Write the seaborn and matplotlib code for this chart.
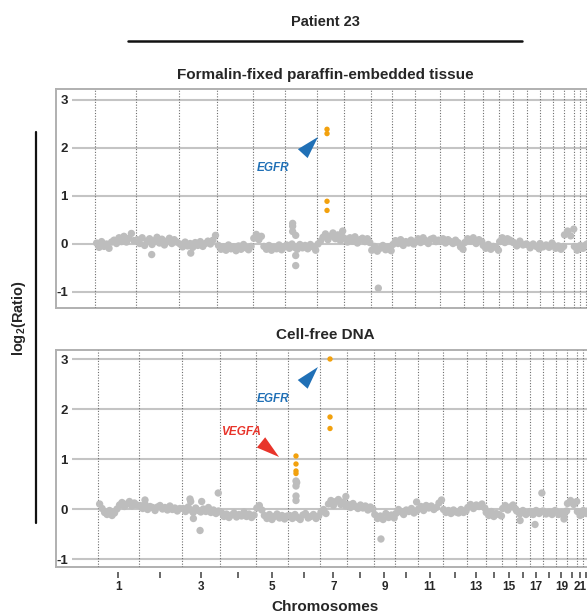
import matplotlib.pyplot as plt
import numpy as np
import pandas as pd
import seaborn as sns
from matplotlib.lines import Line2D

# ---- data -------------------------------------------------------------
chrom_names = [str(i) for i in range(1, 23)] + ["X"]
# plotted (mappable) chromosome sizes, Mb
chrom_size = [225, 239, 214, 197, 183, 175, 150, 150, 117, 125, 139, 136,
              103, 92, 78, 75, 72, 72, 64, 56, 33, 33, 150]

# log2 ratio of binned probes along each chromosome (FFPE tissue)
ffpe_bins = [
    [0.02, -0.07, 0.05, -0.05, 0.0, -0.09, 0.04, 0.08, 0.01, 0.13, 0.05, 0.16, 0.04, 0.12, 0.22, 0.07],
    [0.09, 0.01, 0.13, -0.03, 0.06, 0.11, -0.01, 0.07, 0.14, 0.02, 0.1, -0.02, 0.06, 0.12, 0.01, 0.09, 0.04],
    [0.0, -0.06, 0.04, -0.04, 0.01, -0.07, 0.03, -0.03, 0.05, -0.05, 0.01, 0.06, 0.0, 0.08, 0.18],
    [-0.03, -0.11, -0.06, -0.13, -0.02, -0.1, -0.06, -0.14, -0.04, -0.11, -0.01, -0.08, -0.12, -0.05],
    [0.12, 0.2, 0.09, 0.16, -0.05, -0.11, -0.03, -0.13, -0.07, -0.1, -0.02, -0.12, -0.06],
    [-0.02, -0.09, 0.0, -0.07, -0.11, -0.01, -0.08, -0.03, -0.1, -0.01, -0.06, -0.13],
    [0.0, 0.06, 0.14, 0.21, 0.09, 0.16, 0.23, 0.11, 0.19, 0.07, 0.14],
    [0.11, 0.04, 0.13, 0.06, 0.15, 0.02, 0.09, 0.12, 0.05, 0.11, 0.03],
    [-0.13, -0.05, -0.15, -0.09, -0.03, -0.12, -0.06, -0.14],
    [-0.01, 0.07, 0.01, 0.09, -0.03, 0.05, 0.02, 0.08, 0.0],
    [0.04, 0.11, 0.03, 0.13, 0.07, 0.01, 0.1, 0.12, 0.05, 0.08],
    [0.06, 0.11, 0.02, 0.09, 0.05, 0.01, 0.08, 0.03, -0.06, -0.11],
    [0.03, 0.11, 0.06, 0.13, 0.01, 0.09, 0.05],
    [-0.03, -0.09, -0.01, -0.11, -0.05, -0.07, -0.13],
    [0.05, 0.13, 0.03, 0.11, 0.08, 0.04],
    [0.03, -0.04, 0.06, -0.02, 0.0],
    [-0.01, -0.08, 0.0, -0.05, -0.1],
    [0.01, -0.06, -0.02, -0.07, 0.02],
    [-0.02, -0.09, -0.04, -0.11, -0.05],
    [0.19, 0.27, 0.17, 0.31],
    [-0.05, -0.13, -0.09],
    [-0.03, -0.09, -0.02],
    [0.0, -0.05, 0.03, -0.02, 0.01],
]
ffpe_out_chrom = ["2", "3", "6", "6", "6", "6", "6", "6", "7", "9"]
ffpe_out_pos = [90, 68, 40, 40, 40, 57, 57, 57, 143, 41]
ffpe_out_val = [-0.22, -0.19, 0.43, 0.37, 0.26, 0.18, -0.24, -0.45, 0.27, -0.92]
ffpe_amp_chrom = ["7", "7", "7", "7"]
ffpe_amp_pos = [56, 56, 56, 56]
ffpe_amp_val = [2.39, 2.30, 0.89, 0.70]

# log2 ratio of binned probes along each chromosome (cell-free DNA)
cfdna_bins = [
    [0.1, 0.01, -0.07, -0.11, -0.03, -0.13, -0.08, 0.0, 0.08, 0.13, 0.05, 0.1, 0.15, 0.06, 0.12, 0.08],
    [0.07, 0.01, 0.09, -0.01, 0.05, 0.03, -0.03, 0.04, 0.07, 0.0, 0.03, -0.02, 0.06, -0.01, 0.02, -0.04, 0.01],
    [0.01, -0.05, 0.04, -0.02, -0.07, 0.02, -0.03, -0.06, 0.0, -0.05, 0.03, -0.07, -0.02, -0.09, -0.04],
    [-0.07, -0.15, -0.1, -0.17, -0.12, -0.08, -0.16, -0.11, -0.14, -0.06, -0.15, -0.1, -0.17, -0.12],
    [0.02, 0.07, -0.02, -0.13, -0.19, -0.11, -0.21, -0.15, -0.1, -0.18, -0.13, -0.2, -0.14],
    [-0.13, -0.19, -0.11, -0.17, -0.21, -0.12, -0.09, -0.18, -0.15, -0.11, -0.19, -0.14],
    [-0.06, -0.01, -0.09, 0.1, 0.17, 0.07, 0.15, 0.19, 0.09, 0.14, 0.06],
    [0.09, 0.03, 0.11, 0.05, 0.01, 0.08, 0.02, 0.06, -0.02, 0.04, 0.0],
    [-0.11, -0.19, -0.14, -0.21, -0.09, -0.17, -0.12, -0.18],
    [-0.09, -0.01, -0.06, -0.11, -0.02, -0.05, 0.01, -0.08, -0.04],
    [0.0, 0.05, -0.03, 0.07, 0.02, 0.06, -0.01, 0.03, 0.12, 0.18],
    [-0.01, -0.07, -0.03, -0.09, -0.02, -0.06, -0.08, -0.01, -0.07, -0.04],
    [0.03, 0.09, 0.01, 0.08, 0.05, 0.1, 0.02],
    [-0.07, -0.13, -0.05, -0.15, -0.09, -0.11, -0.14],
    [0.01, 0.07, -0.02, 0.04, 0.08, 0.0],
    [-0.04, -0.1, -0.03, -0.11, -0.07],
    [-0.05, -0.11, -0.03, -0.09, -0.05],
    [-0.04, -0.1, -0.06, -0.11, -0.03],
    [-0.05, -0.11, -0.07, -0.13, -0.04],
    [0.11, 0.17, 0.09, 0.15],
    [-0.05, -0.13, -0.08],
    [-0.03, -0.09, -0.03],
    [0.0, -0.04, 0.02, -0.03, 0.01],
]
cfdna_out_chrom = ["2", "3", "3", "3", "3", "3", "3", "6", "6", "6", "6", "6",
                   "7", "9", "10", "16", "17", "17", "19"]
cfdna_out_pos = [36, 47, 51, 66, 103, 112, 204, 42, 42, 42, 42, 46,
                 144, 39, 120, 22, 68, 30, 47]
cfdna_out_val = [0.18, 0.2, 0.15, -0.19, -0.43, 0.15, 0.32, 0.56, 0.46, 0.26, 0.17, 0.53,
                 0.25, -0.6, 0.14, -0.23, 0.32, -0.31, -0.2]
cfdna_amp_chrom = ["6", "6", "6", "6", "7", "7", "7"]
cfdna_amp_pos = [42, 42, 42, 42, 56, 56, 56]
cfdna_amp_val = [1.06, 0.9, 0.76, 0.71, 3.0, 1.84, 1.61]

y_ticks = [-1, 0, 1, 2, 3]

# ---- helpers ----------------------------------------------------------
offsets = np.concatenate([[0], np.cumsum(chrom_size)])
centers = offsets[:-1] + np.array(chrom_size) / 2


def build_frame(bins, out_chrom, out_pos, out_val, amp_chrom, amp_pos, amp_val):
    rows = []
    for i, vals in enumerate(bins):
        xs = offsets[i] + np.linspace(0.04, 0.96, len(vals)) * chrom_size[i]
        for x, v in zip(xs, vals):
            rows.append((x, v, "normal"))
    for c, p, v in zip(out_chrom, out_pos, out_val):
        rows.append((offsets[chrom_names.index(c)] + p, v, "normal"))
    for c, p, v in zip(amp_chrom, amp_pos, amp_val):
        rows.append((offsets[chrom_names.index(c)] + p, v, "amplified"))
    return pd.DataFrame(rows, columns=["pos", "log2", "status"])


W, H = 587, 615
PX_PER_MB = 0.18


def rect(x0, y0, x1, y1):
    return [x0 / W, 1 - y1 / H, (x1 - x0) / W, (y1 - y0) / H]


sns.set_style("white")
plt.rcParams["font.family"] = ["Liberation Sans", "DejaVu Sans"]
plt.rcParams["axes.unicode_minus"] = False
plt.rcParams["mathtext.fontset"] = "custom"
plt.rcParams["mathtext.rm"] = "Liberation Sans:bold"
plt.rcParams["mathtext.default"] = "rm"

fig = plt.figure(figsize=(W / 100, H / 100), dpi=100)


def draw_panel(df, top, bottom, y3_px, ym1_px, chr1_px):
    frame = fig.add_axes(rect(56, top, 640, bottom))
    frame.set_xticks([])
    frame.set_yticks([])
    frame.set_facecolor("none")
    for s in frame.spines.values():
        s.set_color("#b0b0b0")
        s.set_linewidth(1.4)

    ax = fig.add_axes(rect(72, top, 640, bottom))
    ax.set_facecolor("none")
    per_unit = (ym1_px - y3_px) / 4
    ax.set_ylim(-1 - (bottom - ym1_px) / per_unit, 3 + (y3_px - top) / per_unit)
    ax.set_xlim(-(chr1_px - 72) / PX_PER_MB, (640 - chr1_px) / PX_PER_MB)

    for b in offsets:
        ax.axvline(b, color="#6e6e6e", lw=0.8, ls=(0, (1, 1.5)), zorder=1)
    ax.set_yticks(y_ticks)
    ax.yaxis.grid(True, color="#c4c4c4", lw=1.5)
    ax.xaxis.grid(False)
    ax.set_axisbelow(True)

    sns.scatterplot(data=df, x="pos", y="log2", hue="status", size="status",
                    palette={"normal": "#bdbdbd", "amplified": "#f2a10d"},
                    sizes={"normal": 28, "amplified": 15},
                    linewidth=0, legend=False, ax=ax, zorder=3)
    for s in ax.spines.values():
        s.set_visible(False)
    ax.set_xticks([])
    ax.set_xlabel("")
    ax.set_ylabel("")
    ax.tick_params(axis="y", length=0, pad=3, labelsize=9.5)
    for lab in ax.get_yticklabels():
        lab.set_fontweight("bold")
    return ax


def wedge(ax, tip, offset, color):
    ax.annotate("", xy=tip, xytext=offset, textcoords="offset points",
                arrowprops=dict(arrowstyle="wedge,tail_width=0.95,shrink_factor=0.5",
                                fc=color, ec="none", mutation_scale=10,
                                shrinkA=0, shrinkB=0), zorder=5)


blue = "#2070b6"
red = "#e8342a"

ffpe = build_frame(ffpe_bins, ffpe_out_chrom, ffpe_out_pos, ffpe_out_val,
                   ffpe_amp_chrom, ffpe_amp_pos, ffpe_amp_val)
cfdna = build_frame(cfdna_bins, cfdna_out_chrom, cfdna_out_pos, cfdna_out_val,
                    cfdna_amp_chrom, cfdna_amp_pos, cfdna_amp_val)

ax1 = draw_panel(ffpe, 89, 308, 100, 292, 95)
wedge(ax1, (1239, 2.23), (-11, -12), blue)
ax1.text(989, 1.58, "EGFR", color=blue, fontsize=8.5, fontweight="bold",
         fontstyle="italic", ha="center", va="center")

ax2 = draw_panel(cfdna, 350, 567, 359, 559, 98)
wedge(ax2, (1222, 2.84), (-11, -12.5), blue)
ax2.text(972, 2.2, "EGFR", color=blue, fontsize=8.5, fontweight="bold",
         fontstyle="italic", ha="center", va="center")
wedge(ax2, (1006, 1.04), (-13, 10.5), red)
ax2.text(794, 1.54, "VEGFA", color=red, fontsize=8.5, fontweight="bold",
         fontstyle="italic", ha="center", va="center")

# chromosome tick strip
strip = fig.add_axes(rect(72, 572, 640, 578))
strip.set_xlim(ax2.get_xlim())
strip.set_ylim(0, 1)
strip.set_facecolor("none")
strip.set_xticks(centers)
strip.set_xticklabels([n if i % 2 == 0 else "" for i, n in enumerate(chrom_names)],
                      fontweight="bold", fontsize=8.5)
strip.set_yticks([])
strip.tick_params(axis="x", direction="in", top=True, bottom=False,
                  labelbottom=True, labeltop=False, length=4.3, width=1.1,
                  color="#404040", pad=2)
for s in strip.spines.values():
    s.set_visible(False)

# titles and decorations
fig.text(325 / W, 1 - 22 / H, "Patient 23", ha="center", va="center",
         fontsize=10.5, fontweight="bold")
fig.add_artist(Line2D([128 / W, 522 / W], [1 - 41 / H] * 2, color="#111111", lw=1.8))
fig.text(325 / W, 1 - 75 / H, "Formalin-fixed paraffin-embedded tissue",
         ha="center", va="center", fontsize=11, fontweight="bold")
fig.text(325 / W, 1 - 335 / H, "Cell-free DNA", ha="center", va="center",
         fontsize=11, fontweight="bold")
fig.text(19 / W, 1 - 318 / H, r"log$_2$(Ratio)", rotation=90, ha="center",
         va="center", fontsize=10.5, fontweight="bold")
fig.add_artist(Line2D([36 / W] * 2, [1 - 132 / H, 1 - 523 / H], color="#111111", lw=1.6))
fig.text(325 / W, 1 - 607 / H, "Chromosomes", ha="center", va="center",
         fontsize=11, fontweight="bold")

fig.savefig("out.png", dpi=100)
